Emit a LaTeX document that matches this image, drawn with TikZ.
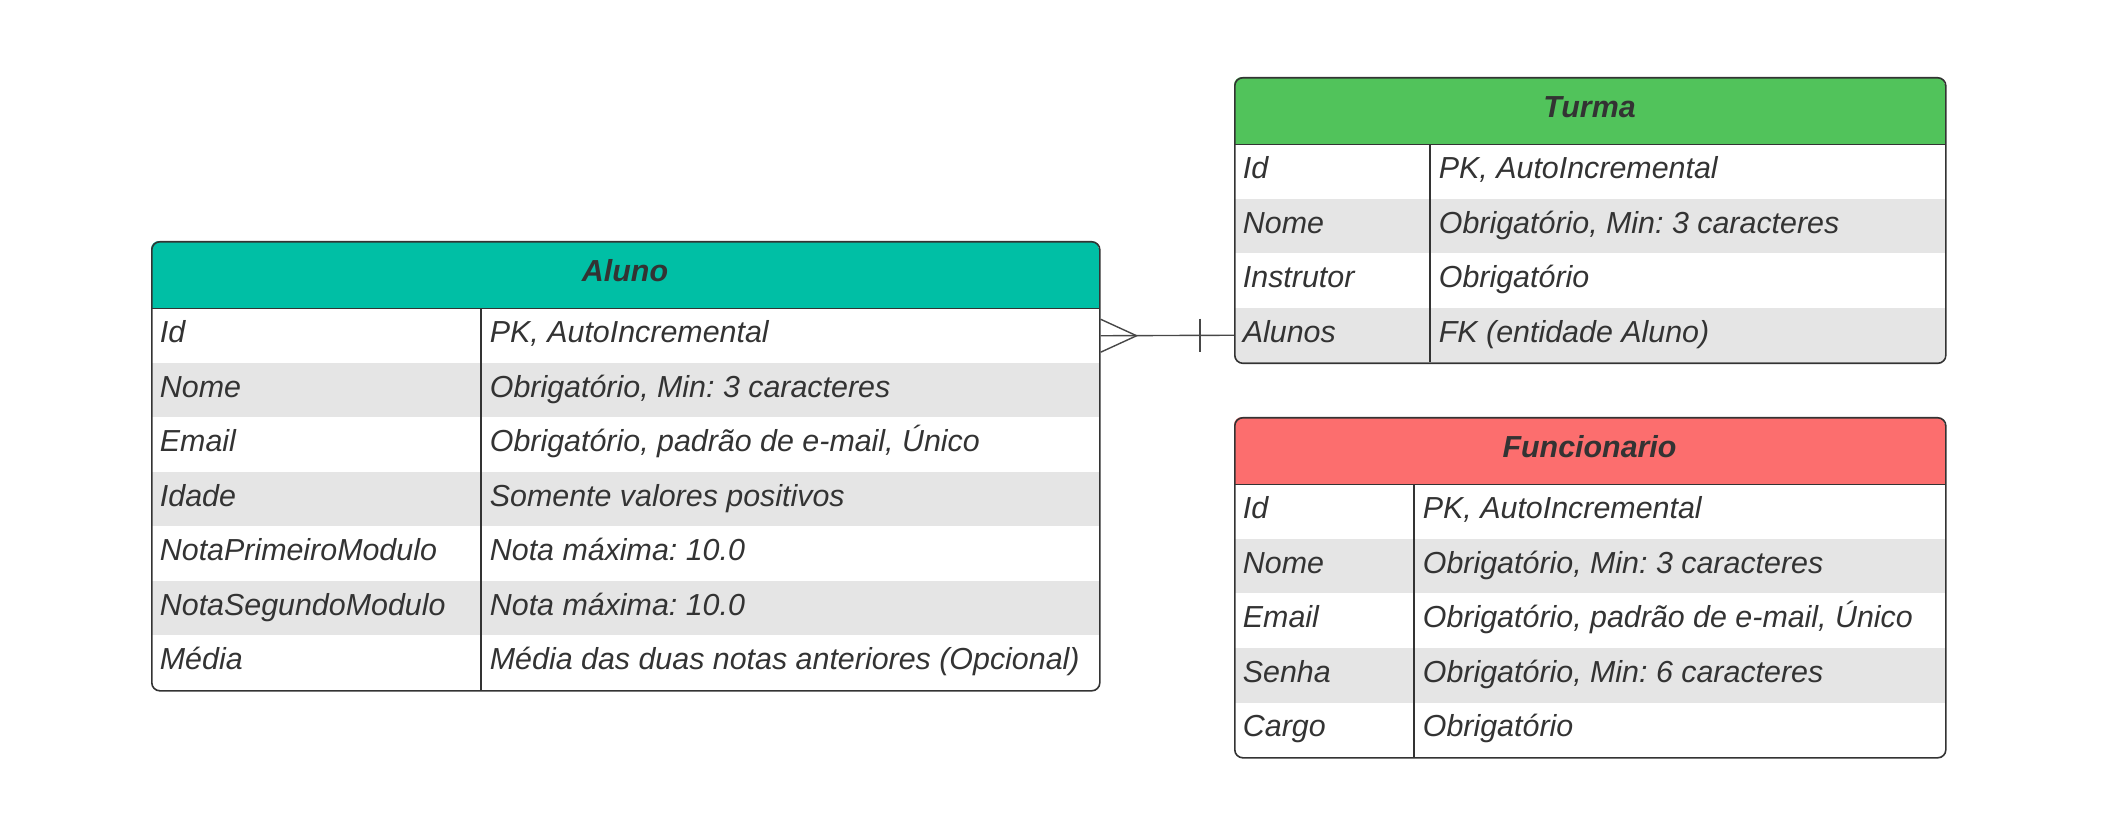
\documentclass[tikz,border=0pt]{standalone}
\usepackage{fontspec}
\setmainfont{Liberation Sans}
\usepackage{tikz}
\frenchspacing

\definecolor{alunoc}{HTML}{00BFA5}
\definecolor{turmac}{HTML}{51C35B}
\definecolor{funcc}{HTML}{FC6E6E}
\definecolor{rowgray}{HTML}{E5E5E5}
\definecolor{ink}{HTML}{333333}

\tikzset{
  entity/.style={draw=ink, line width=0.8pt, rounded corners=4pt, anchor=north west, inner sep=0pt},
  title/.style={font=\fontsize{15.2}{18}\selectfont\bfseries\itshape, text=ink, inner sep=0pt, text height=11pt, text depth=4pt},
  field/.style={anchor=west, font=\fontsize{15.2}{18}\selectfont\itshape, text=ink, inner sep=0pt, text height=11pt, text depth=4pt},
  divline/.style={draw=ink, line width=0.6pt},
  link/.style={draw=ink!90, line width=0.7pt},
}

\begin{document}
\begin{tikzpicture}[x=0.5pt, y=-0.5pt]
  \useasboundingbox (0,0) rectangle (2115,833);

  % Aluno
  \begin{scope}
    \clip [rounded corners=4pt] (151,241) rectangle (1099,690);
    \fill [alunoc] (151,241) rectangle (1099,308.5);
    \foreach \n in {2,4,6}
      \fill [rowgray] (151,{308.5+(\n-1)*54.5}) rectangle (1099,{308.5+\n*54.5});
  \end{scope}
  \node (aluno) [entity, minimum width=474pt, minimum height=224.5pt] at (151,241) {};
  \draw [divline] (151,308.5) -- (1099,308.5);
  \draw [divline] (481,308.5) -- (481,690);
  \node (aluno-t) [title] at (625,274.75) {Aluno};
  \foreach \k/\v [count=\n] in {Id/{PK, AutoIncremental},
      Nome/{Obrigatório, Min: 3 caracteres},
      Email/{Obrigatório, padrão de e-mail, Único},
      Idade/{Somente valores positivos},
      NotaPrimeiroModulo/{Nota máxima: 10.0},
      NotaSegundoModulo/{Nota máxima: 10.0},
      Média/{Média das duas notas anteriores (Opcional)}} {
    \node (aluno-\n) [field] at (159.5,{308.5+(\n-0.5)*54.5}) {\k};
    \node (aluno-\n-v) [field] at (489.5,{308.5+(\n-0.5)*54.5}) {\v};
  }

  % Turma
  \begin{scope}
    \clip [rounded corners=4pt] (1234,77) rectangle (1945,362.5);
    \fill [turmac] (1234,77) rectangle (1945,144.5);
    \foreach \n in {2,4}
      \fill [rowgray] (1234,{144.5+(\n-1)*54.5}) rectangle (1945,{144.5+\n*54.5});
  \end{scope}
  \node (turma) [entity, minimum width=355.5pt, minimum height=142.75pt] at (1234,77) {};
  \draw [divline] (1234,144.5) -- (1945,144.5);
  \draw [divline] (1430,144.5) -- (1430,362.5);
  \node (turma-t) [title] at (1589.5,110.75) {Turma};
  \foreach \k/\v [count=\n] in {Id/{PK, AutoIncremental},
      Nome/{Obrigatório, Min: 3 caracteres},
      Instrutor/{Obrigatório},
      Alunos/{FK (entidade Aluno)}} {
    \node (turma-\n) [field] at (1242.5,{144.5+(\n-0.5)*54.5}) {\k};
    \node (turma-\n-v) [field] at (1438.5,{144.5+(\n-0.5)*54.5}) {\v};
  }

  % Funcionario
  \begin{scope}
    \clip [rounded corners=4pt] (1234,417) rectangle (1945,757);
    \fill [funcc] (1234,417) rectangle (1945,484.5);
    \foreach \n in {2,4}
      \fill [rowgray] (1234,{484.5+(\n-1)*54.5}) rectangle (1945,{484.5+\n*54.5});
  \end{scope}
  \node (func) [entity, minimum width=355.5pt, minimum height=170pt] at (1234,417) {};
  \draw [divline] (1234,484.5) -- (1945,484.5);
  \draw [divline] (1414,484.5) -- (1414,757);
  \node (func-t) [title] at (1589.5,450.75) {Funcionario};
  \foreach \k/\v [count=\n] in {Id/{PK, AutoIncremental},
      Nome/{Obrigatório, Min: 3 caracteres},
      Email/{Obrigatório, padrão de e-mail, Único},
      Senha/{Obrigatório, Min: 6 caracteres},
      Cargo/{Obrigatório}} {
    \node (func-\n) [field] at (1242.5,{484.5+(\n-0.5)*54.5}) {\k};
    \node (func-\n-v) [field] at (1422.5,{484.5+(\n-0.5)*54.5}) {\v};
  }

  % relacao Aluno (N) -- Turma (1)
  \coordinate (many) at (aluno.east |- aluno-1);
  \coordinate (one) at (turma.west |- turma-4);
  \draw [link] (many) -- (one);
  \draw [link] ([yshift=8.25pt]many) -- ([xshift=18pt]many) -- ([yshift=-8.25pt]many);
  \draw [link] ([xshift=-17pt,yshift=8.25pt]one) -- ([xshift=-17pt,yshift=-8.25pt]one);
\end{tikzpicture}
\end{document}
